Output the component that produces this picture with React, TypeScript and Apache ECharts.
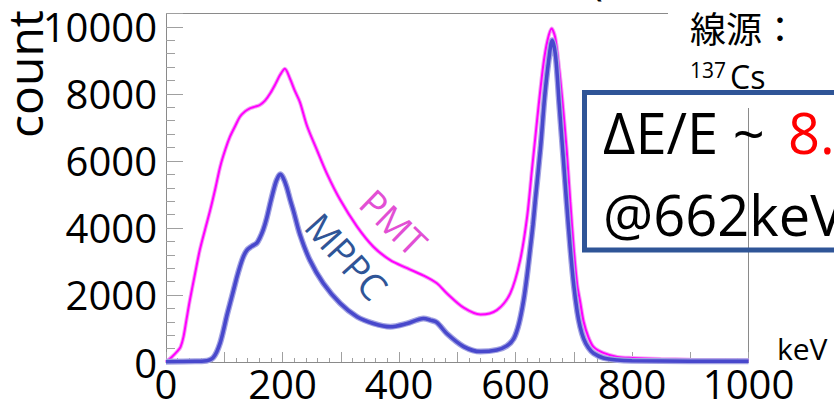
import React, { useEffect, useRef } from "react";
import * as echarts from "echarts";

const xTicks = [0, 200, 400, 600, 800, 1000];
const yTicks = [0, 2000, 4000, 6000, 8000, 10000];

const pmtEnergy = [0, 10, 20, 25, 30, 35, 41, 50, 58, 67, 76, 85, 93, 102, 110, 119, 127, 136, 144, 153, 161, 170, 179, 188, 196, 204, 213, 221, 230, 242, 259, 276, 299, 328, 356, 385, 414, 442, 465, 482, 511, 540, 568, 591, 608, 620, 628, 634, 640, 648, 655, 662, 668, 674, 680, 688, 694, 700, 706, 711, 717, 725, 734, 751, 775, 800, 850, 900, 1000];
const pmtCount = [0, 150, 330, 450, 750, 1250, 1850, 2650, 3340, 3950, 4540, 5200, 5830, 6350, 6730, 7050, 7320, 7480, 7570, 7620, 7670, 7800, 8020, 8300, 8570, 8750, 8450, 8100, 7750, 7050, 6330, 5630, 4840, 4040, 3440, 3040, 2800, 2580, 2350, 2050, 1620, 1420, 1550, 2050, 3040, 4340, 5700, 6700, 7700, 8900, 9600, 9950, 9700, 8900, 7900, 6300, 4800, 3400, 2300, 1800, 1200, 750, 450, 270, 150, 120, 90, 70, 50];

const mppcEnergy = [0, 50, 70, 76, 81, 87, 93, 98, 104, 110, 116, 122, 127, 133, 139, 147, 156, 161, 167, 173, 179, 185, 190, 196, 201, 207, 213, 219, 230, 247, 270, 299, 328, 356, 385, 414, 442, 454, 465, 482, 511, 540, 568, 585, 597, 606, 614, 620, 625, 630, 634, 643, 650, 657, 663, 669, 675, 682, 688, 694, 700, 706, 711, 717, 725, 734, 751, 775, 800, 900, 1000];
const mppcCount = [10, 20, 40, 70, 130, 300, 570, 900, 1350, 1750, 2150, 2550, 2850, 3150, 3340, 3450, 3550, 3700, 3950, 4300, 4740, 5150, 5430, 5600, 5500, 5230, 4850, 4500, 3800, 3040, 2350, 1750, 1350, 1150, 1050, 1150, 1300, 1250, 1180, 850, 460, 310, 360, 480, 700, 1150, 1850, 2600, 3340, 4100, 4840, 6400, 7900, 9000, 9600, 9100, 7700, 6100, 4700, 3400, 2300, 1500, 1050, 700, 430, 260, 120, 60, 40, 25, 20];

const FONT = "'Open Sans', sans-serif";

export default function App() {
  const ref = useRef<HTMLDivElement>(null);
  useEffect(() => {
    if (!ref.current) return;
    const chart = echarts.init(ref.current, null, { renderer: "svg" });
    const pmtData = pmtEnergy.map((e, i) => [e, pmtCount[i]]);
    const mppcData = mppcEnergy.map((e, i) => [e, mppcCount[i]]);
    const axisGray = "#8a8a8a";
    chart.setOption({
      animation: false,
      backgroundColor: "#ffffff",
      grid: { left: 166, right: 85.5, top: 13.5, bottom: 41, containLabel: false },
      xAxis: {
        type: "value",
        min: 0,
        max: 1000,
        interval: 100,
        axisLine: { lineStyle: { color: axisGray, width: 1 } },
        axisTick: { inside: true, length: 10, lineStyle: { color: "#a0a0a0" } },
        minorTick: { show: true, splitNumber: 5, length: 4, lineStyle: { color: "#a0a0a0" } },
        splitLine: { show: false },
        axisLabel: {
          formatter: (v: number) => (xTicks.includes(v) ? String(v) : ""),
          fontSize: 40,
          fontFamily: FONT,
          color: "#000",
          margin: 1,
          showMinLabel: true,
          showMaxLabel: true,
        },
      },
      yAxis: {
        type: "value",
        min: 0,
        max: 10400,
        interval: 2000,
        axisLine: { show: true, lineStyle: { color: axisGray, width: 1 } },
        axisTick: { show: true, inside: true, length: 17, lineStyle: { color: "#a0a0a0" } },
        minorTick: { show: true, splitNumber: 5, length: 9, lineStyle: { color: "#a0a0a0" } },
        splitLine: { show: false },
        axisLabel: {
          formatter: (v: number) => (yTicks.includes(v) ? String(v) : ""),
          fontSize: 40,
          fontFamily: FONT,
          color: "#000",
          margin: 9,
          showMaxLabel: false,
        },
      },
      series: [
        {
          type: "line",
          data: pmtData,
          showSymbol: false,
          silent: true,
          smooth: 0.3,
          lineStyle: { color: "#f4a3f4", width: 4 },
          z: 2,
        },
        {
          type: "line",
          data: pmtData,
          showSymbol: false,
          silent: true,
          smooth: 0.3,
          lineStyle: { color: "#ff00ff", width: 2 },
          z: 3,
        },
        {
          type: "line",
          data: mppcData,
          showSymbol: false,
          silent: true,
          smooth: 0.3,
          lineStyle: { color: "#a3a3e2", width: 6 },
          z: 4,
        },
        {
          type: "line",
          data: mppcData,
          showSymbol: false,
          silent: true,
          smooth: 0.3,
          lineStyle: { color: "#4848cc", width: 3.5 },
          z: 5,
        },
      ],
      graphic: [
        { type: "line", shape: { x1: 166, y1: 13.5, x2: 668, y2: 13.5 }, style: { stroke: axisGray, lineWidth: 1 }, silent: true },
        { type: "line", shape: { x1: 748.5, y1: 108, x2: 748.5, y2: 362 }, style: { stroke: axisGray, lineWidth: 1 }, silent: true },
        { type: "text", x: 590, y: -23, style: { text: "(", font: `44px ${FONT}`, fill: "#000", textAlign: "left", textVerticalAlign: "middle" }, silent: true },
        { type: "text", x: 24, y: 74, rotation: Math.PI / 2, style: { text: "count", font: `48px ${FONT}`, fill: "#000", textAlign: "center", textVerticalAlign: "middle" }, silent: true },
        { type: "text", x: 777, y: 348, style: { text: "keV", font: `30px ${FONT}`, fill: "#000", textAlign: "left", textVerticalAlign: "middle" }, silent: true },
        { type: "text", x: 690, y: 27, style: { text: "線源：", font: `36px 'Noto Sans CJK JP', sans-serif`, fill: "#000", textAlign: "left", textVerticalAlign: "middle" }, silent: true },
        { type: "text", x: 690, y: 70, style: { text: "137", font: `21px ${FONT}`, fill: "#000", textAlign: "left", textVerticalAlign: "middle" }, silent: true },
        { type: "text", x: 730, y: 76, style: { text: "Cs", font: `32px ${FONT}`, fill: "#000", textAlign: "left", textVerticalAlign: "middle" }, silent: true },
        { type: "rect", shape: { x: 584.5, y: 92.5, width: 300, height: 157.5 }, style: { fill: "none", stroke: "#2F5597", lineWidth: 5 }, silent: true, z: 10 },
        { type: "text", x: 603, y: 132, style: { text: "ΔE/E ~ ", font: `56px ${FONT}`, fill: "#000", textAlign: "left", textVerticalAlign: "middle" }, silent: true, z: 10 },
        { type: "text", x: 788, y: 132, style: { text: "8.", font: `56px ${FONT}`, fill: "#ff0000", textAlign: "left", textVerticalAlign: "middle" }, silent: true, z: 10 },
        { type: "text", x: 603, y: 214, style: { text: "@662keV", font: `56px ${FONT}`, fill: "#000", textAlign: "left", textVerticalAlign: "middle" }, silent: true, z: 10 },
        { type: "text", x: 394, y: 222, rotation: (-44 * Math.PI) / 180, style: { text: "PMT", font: `37px ${FONT}`, fill: "#E24FD4", textAlign: "center", textVerticalAlign: "middle" }, silent: true, z: 10 },
        { type: "text", x: 347, y: 256, rotation: (-48 * Math.PI) / 180, style: { text: "MPPC", font: `37px ${FONT}`, fill: "#2F5597", textAlign: "center", textVerticalAlign: "middle" }, silent: true, z: 10 },
      ],
    });
    return () => chart.dispose();
  }, []);
  return (
    <div
      ref={ref}
      style={{ position: "absolute", left: 0, top: 0, width: 834, height: 403 }}
    />
  );
}
